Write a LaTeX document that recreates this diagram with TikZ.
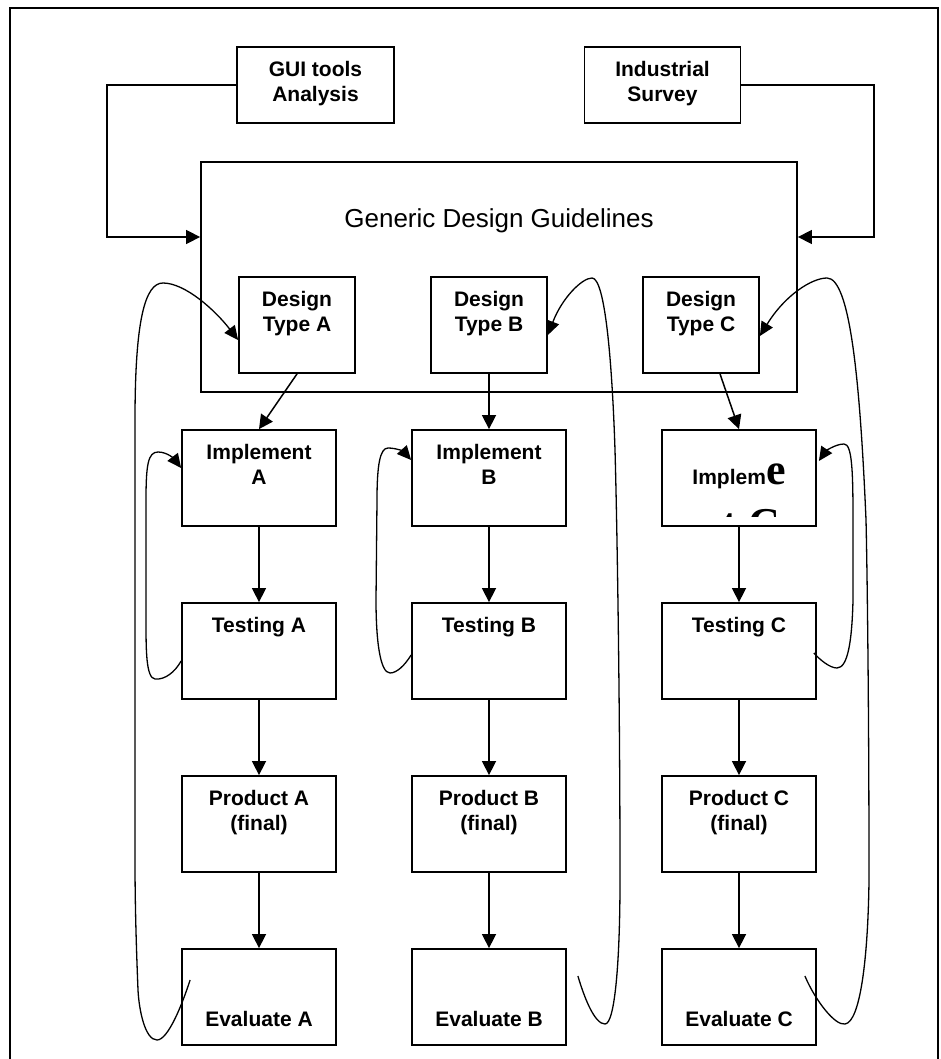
\documentclass[tikz,border=0pt]{standalone}
\usepackage{fontspec}
\setmainfont{Liberation Sans}
\newfontfamily\bigserif{Liberation Serif}
\usetikzlibrary{arrows.meta,calc}
\newcommand\tstrut{\rule{0pt}{16pt}}

\begin{document}
\begin{tikzpicture}[x=1pt,y=-1pt,
  box/.style={draw, line width=1.8pt, inner sep=0pt, minimum width=154pt, minimum height=96pt},
  typebox/.style={box, minimum width=116pt},
  topbox/.style={box, minimum width=157pt, minimum height=76pt},
  lbl/.style={font=\fontsize{21}{25}\selectfont\bfseries, align=center, inner sep=0pt, anchor=north},
  flow/.style={line width=1.5pt, -{Triangle[length=14pt,width=14pt]}},
  loopline/.style={line width=1.3pt, -{Triangle[length=14pt,width=13pt]}},
]
\useasboundingbox (0,0) rectangle (940,1059);

% page frame (open at the bottom)
\draw[line width=2pt] (9.5,1065) -- (9.5,7.7) -- (937.5,7.7) -- (937.5,1065);

% sources
\node[topbox] (gui) at (315.5,85) {};
\node[lbl] (guiT) at ($(gui.north)+(0,14)$) {\tstrut GUI tools\\Analysis};
\node[topbox, minimum width=156pt] (ind) at (662.5,85) {};
\node[lbl] (indT) at ($(ind.north)+(0,14)$) {\tstrut Industrial\\Survey};

% guidelines frame
\node[box, minimum width=596pt, minimum height=230pt] (gdg) at (499,277) {};
\node[font=\fontsize{26}{30}\selectfont, anchor=base, inner sep=0pt] (gdgT) at ($(gdg.north)+(0,66)$) {Generic Design Guidelines};

\coordinate (lc) at (107,237);
\coordinate (rc) at (874,237);
\draw[flow] (gui.west) -| (lc) -- (lc -| gdg.west);
\draw[flow] (ind.east) -| (rc) -- (rc -| gdg.east);

% design types
\node[typebox] (typeA) at (297,325) {};
\node[lbl] (typeAT) at ($(typeA.north)+(0,14)$) {\tstrut Design\\Type A};
\node[typebox] (typeB) at (489,325) {};
\node[lbl] (typeBT) at ($(typeB.north)+(0,14)$) {\tstrut Design\\Type B};
\node[typebox] (typeC) at (701,325) {};
\node[lbl] (typeCT) at ($(typeC.north)+(0,14)$) {\tstrut Design\\Type C};

% column A
\node[box] (implA) at (259,478) {};
\node[lbl] (implAT) at ($(implA.north)+(0,14)$) {\tstrut Implement\\A};
\node[box] (testA) at (259,651) {};
\node[lbl] (testAT) at ($(testA.north)+(0,14)$) {\tstrut Testing A};
\node[box] (prodA) at (259,824) {};
\node[lbl] (prodAT) at ($(prodA.north)+(0,14)$) {\tstrut Product A\\(final)};
\node[box] (evA) at (259,997) {};
\node[lbl, anchor=base] (evAT) at ($(evA.north)+(0,78)$) {Evaluate A};

% column B
\node[box] (implB) at (489,478) {};
\node[lbl] (implBT) at ($(implB.north)+(0,14)$) {\tstrut Implement\\B};
\node[box] (testB) at (489,651) {};
\node[lbl] (testBT) at ($(testB.north)+(0,14)$) {\tstrut Testing B};
\node[box] (prodB) at (489,824) {};
\node[lbl] (prodBT) at ($(prodB.north)+(0,14)$) {\tstrut Product B\\(final)};
\node[box] (evB) at (489,997) {};
\node[lbl, anchor=base] (evBT) at ($(evB.north)+(0,78)$) {Evaluate B};

% column C (its first label overflows the text frame and is cut off)
\node[box] (implC) at (739,478) {};
\begin{scope}
  \clip (implC.north west) rectangle ($(implC.south east)+(0,-10)$);
  \node[anchor=base, inner sep=0pt] (implCT1) at ($(implC.north)+(0,55)$)
    {\fontsize{21}{25}\selectfont\bfseries Implem\bigserif\fontsize{44}{50}\selectfont e};
  \node[anchor=base, inner sep=0pt] (implCT2) at ($(implC.north)+(0,109)$)
    {\bigserif\bfseries\fontsize{44}{50}\selectfont nt C};
\end{scope}
\node[box] (testC) at (739,651) {};
\node[lbl] (testCT) at ($(testC.north)+(0,14)$) {\tstrut Testing C};
\node[box] (prodC) at (739,824) {};
\node[lbl] (prodCT) at ($(prodC.north)+(0,14)$) {\tstrut Product C\\(final)};
\node[box] (evC) at (739,997) {};
\node[lbl, anchor=base] (evCT) at ($(evC.north)+(0,78)$) {Evaluate C};

% forward flow
\draw[flow] (typeA.south) -- (implA.north);
\draw[flow] (typeB.south) -- (implB.north);
\draw[flow] ($(typeC.south)+(19,0)$) -- (implC.north);
\foreach \c in {A,B,C}{
  \draw[flow] (impl\c.south) -- (test\c.north);
  \draw[flow] (test\c.south) -- (prod\c.north);
  \draw[flow] (prod\c.south) -- (ev\c.north);
}

% feedback: testing back to implementation
\draw[loopline] ($(testA.west)+(0,10)$) .. controls (175,672) and (165,680) .. (155,679)
  .. controls (146,678) and (146,650) .. (146,620) -- (146,500)
  .. controls (146,465) and (148,452) .. (158,452)
  .. controls (168,452) and (175,460) .. ($(implA.west)+(0,-10)$);
\draw[loopline] ($(testB.west)+(0,4)$) .. controls (405,665) and (397,673) .. (390,673)
  .. controls (380,673) and (376,640) .. (376,600) -- (377,500)
  .. controls (377,465) and (380,448) .. (388,448)
  .. controls (397,448) and (404,452) .. ($(implB.west)+(0,-18)$);
\draw[loopline] ($(testC.east)+(-3,2)$) .. controls (820,660) and (830,668) .. (837,668)
  .. controls (848,668) and (852,640) .. (853,600) -- (853,520)
  .. controls (853,470) and (852,444) .. (844,444)
  .. controls (835,444) and (825,452) .. ($(implC.east)+(2,-17)$);

% feedback: evaluation back to design type
\draw[loopline] ($(evA.west)+(9,-17)$) .. controls (182,1005) and (168,1040) .. (157,1040)
  .. controls (145,1040) and (139,1010) .. (138,990)
  .. controls (136,940) and (135,900) .. (135,860) -- (135,420)
  .. controls (135,320) and (145,283) .. (163,283)
  .. controls (185,283) and (215,310) .. ($(typeA.west)+(0,15)$);
\draw[loopline] ($(evB.east)+(11,-21)$) .. controls (585,1000) and (595,1024) .. (605,1024)
  .. controls (615,1024) and (620,960) .. (620,880)
  .. controls (620,700) and (617,520) .. (615,450)
  .. controls (612,360) and (605,278) .. (592,278)
  .. controls (582,278) and (562,298) .. ($(typeB.east)+(0,10)$);
\draw[loopline] ($(evC.east)+(-12,-21)$) .. controls (815,1000) and (835,1026) .. (845,1024)
  .. controls (860,1022) and (868,960) .. (869,880)
  .. controls (869,700) and (867,560) .. (866,520)
  .. controls (860,380) and (850,278) .. (827,278)
  .. controls (812,278) and (785,295) .. ($(typeC.east)+(0,11)$);
\end{tikzpicture}
\end{document}
